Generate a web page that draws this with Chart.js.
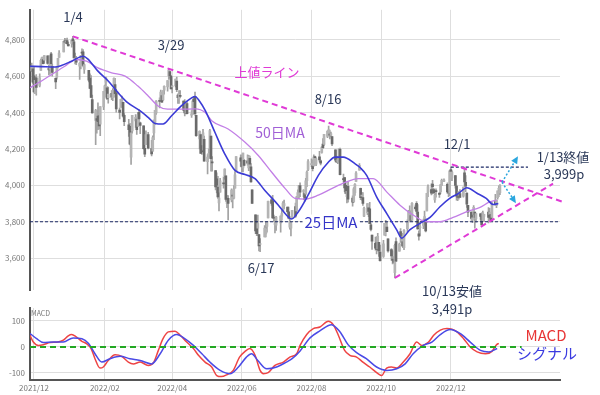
<!DOCTYPE html>
<html>
<head>
<meta charset="utf-8">
<script src="https://cdn.jsdelivr.net/npm/chart.js@4"></script>
<style>
    body { margin: 0; background: #fff; }
    #wrap { position: relative; width: 600px; height: 395px; }
    #wrap canvas { position: absolute; left: 0; top: 0; }
</style>
</head>
<body>
<div id="wrap">
    <canvas id="mainChart" width="600" height="395"></canvas>
    <canvas id="macdChart" width="600" height="395"></canvas>
</div>
<script>
// trading calendar
const firstDay = '2021-11-29';
const lastDay = '2023-01-13';
const holidays = ['2021-12-24', '2022-01-17', '2022-02-21', '2022-04-15', '2022-05-30', '2022-06-20',
    '2022-07-04', '2022-09-05', '2022-11-24', '2022-12-26', '2023-01-02'];

// daily candles, one line per month (Nov 2021 .. Jan 2023)
const opens = [
    4628, 4640,
    4602, 4504, 4590, 4548, 4631, 4690, 4691, 4688, 4711, 4643, 4637, 4722, 4653, 4587, 4594, 4650, 4703, 4733, 4795, 4788, 4795, 4775,
    4779, 4804, 4788, 4693, 4698, 4655, 4669, 4729, 4733, 4637, 4632, 4588, 4548, 4471, 4357, 4366, 4380, 4381, 4336, 4431,
    4519, 4566, 4535, 4482, 4505, 4481, 4547, 4553, 4506, 4413, 4429, 4455, 4456, 4385, 4332, 4324, 4155, 4299, 4354,
    4364, 4323, 4401, 4343, 4327, 4203, 4223, 4253, 4279, 4202, 4188, 4288, 4345, 4398, 4462, 4469, 4493, 4469, 4522, 4541, 4602, 4624, 4599,
    4540, 4547, 4572, 4495, 4474, 4494, 4462, 4437, 4397, 4449, 4385, 4390, 4473, 4489, 4385, 4255, 4279, 4186, 4222, 4253,
    4130, 4159, 4181, 4271, 4129, 4081, 4035, 3990, 3903, 3963, 4013, 4053, 4052, 3900, 3928, 3920, 3942, 3929, 3984, 4077, 4151,
    4149, 4096, 4137, 4135, 4096, 4148, 4102, 3975, 3838, 3765, 3764, 3729, 3675, 3716, 3733, 3774, 3821, 3920, 3913, 3826, 3785,
    3781, 3793, 3831, 3859, 3888, 3880, 3855, 3770, 3764, 3818, 3883, 3860, 3935, 3955, 3998, 3966, 3954, 3951, 4026, 4087,
    4113, 4105, 4107, 4154, 4116, 4156, 4134, 4181, 4227, 4225, 4269, 4291, 4281, 4274, 4267, 4195, 4133, 4127, 4153, 4198, 4035, 4042, 4000,
    3937, 3994, 3930, 3910, 3960, 4022, 4083, 3984, 3940, 3932, 3830, 3849, 3876, 3871, 3783, 3727, 3682, 3686, 3651, 3687, 3633,
    3609, 3726, 3754, 3771, 3706, 3647, 3595, 3591, 3520, 3691, 3638, 3746, 3695, 3689, 3657, 3762, 3799, 3825, 3834, 3808, 3881,
    3901, 3853, 3734, 3767, 3780, 3817, 3810, 3859, 3964, 3977, 4007, 3976, 3920, 3966, 3956, 3965, 4000, 4023, 4005, 3965, 3958,
    4087, 4040, 4053, 3996, 3934, 3947, 3954, 3940, 4069, 4016, 3958, 3890, 3853, 3810, 3840, 3853, 3815, 3843, 3829, 3806, 3829,
    3853, 3840, 3840, 3823, 3910, 3889, 3932, 3977, 3960
];
const highs = [
    4672, 4646,
    4652, 4596, 4608, 4612, 4694, 4705, 4705, 4713, 4711, 4660, 4712, 4731, 4666, 4591, 4651, 4698, 4740, 4791, 4807, 4804, 4808, 4787,
    4796, 4818, 4797, 4726, 4708, 4674, 4714, 4749, 4745, 4666, 4632, 4612, 4603, 4495, 4418, 4411, 4453, 4429, 4433, 4516,
    4550, 4595, 4542, 4540, 4521, 4531, 4590, 4588, 4527, 4426, 4472, 4490, 4456, 4394, 4363, 4341, 4295, 4385, 4389,
    4375, 4401, 4416, 4347, 4327, 4277, 4299, 4268, 4291, 4247, 4272, 4358, 4412, 4465, 4481, 4523, 4501, 4521, 4546, 4575, 4637, 4627, 4604,
    4548, 4583, 4594, 4503, 4521, 4520, 4464, 4471, 4453, 4460, 4411, 4471, 4489, 4512, 4386, 4299, 4279, 4240, 4308, 4270,
    4169, 4200, 4308, 4271, 4158, 4081, 4068, 4050, 3964, 4039, 4047, 4090, 4052, 3945, 3944, 3981, 3956, 3999, 4076, 4158, 4168,
    4166, 4177, 4143, 4168, 4164, 4160, 4119, 3975, 3838, 3778, 3837, 3729, 3708, 3779, 3801, 3802, 3913, 3927, 3945, 3836, 3818,
    3829, 3832, 3870, 3910, 3919, 3880, 3880, 3829, 3796, 3863, 3903, 3939, 3975, 4000, 4013, 3976, 3954, 4039, 4079, 4141,
    4145, 4140, 4168, 4161, 4151, 4187, 4138, 4211, 4257, 4280, 4301, 4325, 4303, 4293, 4267, 4195, 4159, 4156, 4200, 4204, 4062, 4044, 4016,
    3970, 4018, 3942, 3987, 4010, 4076, 4119, 3985, 3962, 3960, 3880, 3900, 3876, 3907, 3790, 3727, 3715, 3717, 3736, 3687, 3672,
    3698, 3791, 3807, 3797, 3706, 3653, 3640, 3608, 3677, 3712, 3683, 3762, 3719, 3736, 3757, 3810, 3862, 3887, 3860, 3905, 3893,
    3911, 3894, 3750, 3796, 3814, 3859, 3818, 3958, 4002, 4008, 4028, 3983, 3954, 3980, 3962, 4005, 4034, 4035, 4013, 3976, 4080,
    4100, 4080, 4053, 4001, 3951, 3966, 3977, 3990, 4100, 4053, 3959, 3890, 3854, 3839, 3889, 3853, 3845, 3846, 3849, 3858, 3840,
    3878, 3873, 3840, 3907, 3951, 3919, 3970, 3997, 4004
];
const lows = [
    4626, 4560,
    4510, 4504, 4495, 4540, 4631, 4671, 4667, 4671, 4666, 4606, 4611, 4651, 4600, 4531, 4583, 4645, 4703, 4733, 4780, 4778, 4775, 4765,
    4759, 4775, 4700, 4667, 4663, 4582, 4639, 4718, 4650, 4615, 4568, 4531, 4482, 4396, 4223, 4287, 4305, 4309, 4273, 4415,
    4484, 4544, 4471, 4451, 4471, 4465, 4547, 4484, 4402, 4364, 4429, 4429, 4374, 4327, 4268, 4222, 4115, 4287, 4318,
    4279, 4322, 4345, 4284, 4199, 4157, 4223, 4223, 4200, 4161, 4187, 4251, 4335, 4390, 4425, 4469, 4455, 4466, 4501, 4517, 4581, 4589, 4530,
    4507, 4540, 4514, 4450, 4450, 4482, 4409, 4381, 4392, 4392, 4373, 4390, 4455, 4385, 4268, 4200, 4175, 4170, 4188, 4132,
    4063, 4147, 4154, 4078, 4077, 3975, 3958, 3928, 3859, 3963, 3984, 4034, 3912, 3877, 3810, 3909, 3876, 3925, 3984, 4077, 4104,
    4074, 4074, 4107, 4110, 4080, 4108, 4017, 3900, 3735, 3724, 3723, 3640, 3636, 3716, 3717, 3743, 3821, 3889, 3820, 3799, 3738,
    3752, 3743, 3809, 3859, 3870, 3847, 3815, 3759, 3722, 3817, 3823, 3860, 3926, 3927, 3938, 3937, 3911, 3951, 3993, 4080,
    4103, 4079, 4107, 4135, 4108, 4128, 4112, 4177, 4201, 4219, 4262, 4277, 4255, 4266, 4218, 4129, 4124, 4119, 4148, 4057, 4017, 3965, 3954,
    3903, 3907, 3886, 3906, 3945, 4022, 4083, 3921, 3918, 3889, 3828, 3839, 3828, 3789, 3750, 3648, 3644, 3623, 3640, 3610, 3584,
    3604, 3726, 3722, 3745, 3633, 3588, 3568, 3571, 3491, 3580, 3638, 3686, 3667, 3657, 3647, 3742, 3799, 3825, 3803, 3808, 3863,
    3843, 3759, 3699, 3722, 3762, 3786, 3744, 3859, 3937, 3947, 3953, 3954, 3906, 3935, 3933, 3956, 3999, 4020, 3956, 3937, 3943,
    4050, 4026, 3984, 3919, 3916, 3924, 3933, 3935, 3994, 3965, 3879, 3828, 3807, 3795, 3840, 3764, 3798, 3813, 3783, 3806, 3800,
    3794, 3815, 3802, 3809, 3890, 3877, 3924, 3937, 3949
];
const closes = [
    4655, 4567,
    4513, 4577, 4538, 4591, 4686, 4701, 4668, 4712, 4669, 4634, 4709, 4668, 4620, 4568, 4649, 4697, 4726, 4791, 4786, 4793, 4778, 4766,
    4796, 4793, 4700, 4696, 4677, 4670, 4713, 4726, 4659, 4663, 4577, 4532, 4483, 4398, 4410, 4356, 4350, 4326, 4432, 4516,
    4546, 4589, 4477, 4501, 4484, 4522, 4587, 4504, 4419, 4401, 4472, 4475, 4380, 4349, 4305, 4226, 4288, 4385, 4374,
    4306, 4387, 4364, 4329, 4201, 4171, 4278, 4260, 4204, 4173, 4262, 4358, 4412, 4463, 4461, 4512, 4457, 4520, 4543, 4575, 4632, 4602, 4530,
    4546, 4583, 4525, 4481, 4500, 4488, 4413, 4397, 4447, 4393, 4392, 4463, 4459, 4394, 4272, 4297, 4175, 4184, 4288, 4132,
    4155, 4175, 4301, 4147, 4123, 3991, 4001, 3936, 3930, 4024, 4008, 4089, 3923, 3901, 3901, 3974, 3941, 3979, 4058, 4158, 4132,
    4101, 4177, 4109, 4121, 4161, 4116, 4018, 3901, 3750, 3735, 3790, 3667, 3675, 3765, 3760, 3796, 3912, 3900, 3821, 3819, 3785,
    3825, 3831, 3845, 3903, 3899, 3855, 3819, 3801, 3790, 3863, 3831, 3937, 3960, 3999, 3962, 3967, 3921, 4024, 4073, 4130,
    4119, 4091, 4155, 4152, 4145, 4140, 4122, 4210, 4207, 4280, 4297, 4305, 4275, 4284, 4228, 4138, 4128, 4141, 4199, 4058, 4031, 3986, 3955,
    3967, 3924, 3908, 3980, 4006, 4067, 4110, 3932, 3946, 3901, 3873, 3900, 3856, 3790, 3758, 3693, 3655, 3647, 3720, 3640, 3586,
    3679, 3791, 3783, 3745, 3640, 3612, 3589, 3577, 3670, 3583, 3677, 3720, 3695, 3666, 3752, 3797, 3859, 3831, 3807, 3901, 3872,
    3857, 3760, 3720, 3771, 3807, 3828, 3749, 3956, 3993, 3957, 3992, 3959, 3947, 3965, 3950, 4003, 4027, 4026, 3964, 3958, 4080,
    4076, 4072, 3999, 3941, 3933, 3964, 3934, 3990, 4019, 3995, 3896, 3852, 3818, 3821, 3879, 3823, 3845, 3829, 3783, 3849, 3840,
    3824, 3853, 3808, 3895, 3893, 3919, 3970, 3983, 3999
];

// moving averages (x = days after 2021-12-01)
const ma25Days = [-3.5, 6.7, 18.4, 24, 33, 43, 47, 56, 65, 73.6, 82, 93, 100, 106, 113, 120.5, 129, 138, 141, 145, 150, 158.5, 167, 176,
    184.8, 193.5, 202, 214, 221, 225.6, 231.5, 240, 249, 257.7, 263.6, 270.8, 281, 286, 291.3, 300, 308.8, 317.6, 322, 329, 338, 346.8,
    355.5, 364, 371.6, 379, 387.6, 396, 402, 406.6];
const ma25 = [4654, 4652, 4650, 4658, 4682, 4709, 4695, 4627, 4573, 4509, 4454, 4409, 4373, 4340, 4337, 4382, 4436, 4480, 4488, 4462, 4410,
    4290, 4173, 4082, 4059, 4037, 3973, 3891, 3837, 3815, 3855, 3946, 4055, 4127, 4155, 4155, 4119, 4095, 4055, 3937, 3846, 3755, 3710,
    3755, 3791, 3824, 3882, 3928, 3955, 3987, 3958, 3928, 3895, 3900];
const ma50Days = [-3.5, 3.8, 15.5, 27, 37, 46, 56, 68, 79.8, 91, 100, 108.6, 117, 129, 141, 150, 155.6, 170, 184.8, 196.4, 208, 220,
    228.6, 237, 249, 260.7, 272, 284, 297, 308.8, 320.5, 332, 343.7, 355.5, 367, 379, 390.6, 399, 405];
const ma50 = [4536, 4563, 4609, 4654, 4691, 4682, 4645, 4618, 4600, 4545, 4491, 4436, 4418, 4418, 4420, 4400, 4355, 4309, 4236, 4164, 4073,
    3982, 3928, 3924, 3946, 3982, 4015, 4037, 4037, 3964, 3891, 3837, 3800, 3800, 3824, 3855, 3879, 3909, 3919];

// MACD and signal
const macdDays = [-3.5, -0.6, 3.8, 8.2, 14, 21, 25.7, 30, 33, 37, 42, 46, 50, 53.4, 57.8, 60.7, 65, 71, 76.8, 82.6, 87, 93, 100, 105,
    108.9, 113, 117.6, 123.5, 128, 133.7, 139.6, 144, 149.8, 155.6, 160, 164, 168.7, 174.5, 180, 184.8, 189, 193.6, 198, 200.9, 205, 211,
    218.4, 224, 230, 233, 238.8, 244.6, 250.4, 257.7, 262, 266.5, 272, 276.6, 282.5, 288, 294, 301.5, 304.4, 308.8, 313, 317.6, 323.4,
    329.3, 335, 339.6, 345.5, 350, 355.8, 361.6, 366, 370.4, 376.2, 382, 388, 395.3, 401, 405, 407];
const macd = [45, 19, 6, 9, 17, 19, 26, 43, 48, 39, 22, 13, -6, -45, -81, -77, -52, -30, -36, -58, -65, -58, -71, -58, -13, 32, 58, 61,
    45, 19, -6, -32, -58, -77, -110, -114, -107, -90, -39, -17, -6, -32, -90, -103, -99, -71, -58, -39, -26, 6, 48, 71, 77, 99, 86, 45,
    -13, -32, -39, -58, -77, -103, -110, -81, -77, -81, -58, -26, 19, 6, 19, 45, 65, 71, 68, 58, 32, 0, -19, -26, -17, 9, 14];
const signalDays = [-3.5, 2.3, 8.2, 17, 25.7, 34.3, 42, 47.8, 53.4, 59.3, 66.6, 75.4, 84, 93, 103, 110.5, 117.6, 125, 132, 139.6, 147,
    154, 163, 171.6, 179, 186, 190.5, 196, 203.8, 212.5, 221, 226, 233, 241.7, 250, 260.6, 268, 275, 282.5, 291, 300, 308.8, 317.6, 325,
    332, 341, 348.4, 355.8, 364.6, 373, 382, 391, 398.4, 405.6];
const signal = [52, 32, 17, 19, 19, 35, 32, 13, -26, -58, -45, -36, -45, -52, -65, -26, 26, 48, 32, 6, -26, -58, -90, -103, -77, -39,
    -26, -52, -84, -77, -58, -45, -15, 35, 61, 86, 58, 9, -22, -45, -77, -90, -84, -65, -26, 6, 19, 48, 67, 52, 19, -13, -19, -6];

// drawn lines (days, values)
const upperLineDays = [34, 465], upperLineVals = [4818, 3905];
const lowerLineDays = [316, 454.5], lowerLineVals = [3491, 4009];
const supportDays = [-3.5, 460.6], supportVals = [3800, 3800];
const highDays = [365, 432.6], highVals = [4100, 4100];
const zeroDays = [-3.5, 427], zeroVals = [0, 0];

const tickDates = ['2021-12-01', '2022-02-01', '2022-04-01', '2022-06-01', '2022-08-01', '2022-10-01', '2022-12-01'];
const tickLabels = ['2021/12', '2022/02', '2022/04', '2022/06', '2022/08', '2022/10', '2022/12'];
const priceTicks = [3600, 3800, 4000, 4200, 4400, 4600, 4800];
const macdTicks = [-100, 0, 100];

const FONT = '"Noto Sans CJK JP", "DejaVu Sans", sans-serif';
Chart.defaults.font.family = FONT;

const DAY = 86400000;
const base = Date.UTC(2021, 11, 1);
function dayOf(s) {
    const p = s.split('-').map(Number);
    return (Date.UTC(p[0], p[1] - 1, p[2]) - base) / DAY;
}
const tickDays = tickDates.map(dayOf);

const candleDays = [];
for (let d = dayOf(firstDay); d <= dayOf(lastDay); d++) {
    const dt = new Date(base + d * DAY);
    const wd = dt.getUTCDay();
    if (wd === 0 || wd === 6 || holidays.includes(dt.toISOString().slice(0, 10))) continue;
    candleDays.push(d);
}

const pts = (xs, ys) => xs.map((x, i) => ({ x: x, y: ys[i] }));
const wicks = candleDays.map((d, i) => ({ x: d, y: [lows[i], highs[i]] }));
const bodies = candleDays.map((d, i) => ({ x: d, y: [opens[i], closes[i]] }));

const X_MIN = -3.5, X_MAX = 460.6;

// text + arrows on the price chart
const NAVY = '#2a3858';
const notes = [
    { t: '1/4', x: 73, y: 17, c: NAVY, s: 13 },
    { t: '3/29', x: 171, y: 45, c: NAVY, s: 13 },
    { t: '上値ライン', x: 267, y: 72, c: '#e03ad6', s: 13 },
    { t: '8/16', x: 328, y: 99, c: NAVY, s: 13 },
    { t: '50日MA', x: 280, y: 133, c: '#a15fd6', s: 14 },
    { t: '12/1', x: 457, y: 144, c: NAVY, s: 13 },
    { t: '1/13終値', x: 563, y: 157, c: NAVY, s: 13 },
    { t: '3,999p', x: 564, y: 174, c: NAVY, s: 13 },
    { t: '25日MA', x: 331, y: 222, c: '#3535c8', s: 15, bg: true },
    { t: '6/17', x: 261, y: 268, c: NAVY, s: 13 },
    { t: '10/13安値', x: 452, y: 291, c: NAVY, s: 13 },
    { t: '3,491p', x: 452, y: 309, c: NAVY, s: 13 },
    { t: 'MACD', x: 546, y: 335, c: '#e83535', s: 15 },
    { t: 'シグナル', x: 547, y: 353, c: '#3a3ae0', s: 15 }
];
const arrowStart = { d: 409.8, v: 4017 };
const arrowEnds = [{ d: 423.8, v: 4159 }, { d: 422, v: 3902 }];

const notesPlugin = {
    id: 'notes',
    afterDatasetsDraw(chart) {
        const ctx = chart.ctx;
        const xs = chart.scales.x, ys = chart.scales.y;
        ctx.save();
        // dotted arrows
        const sx = xs.getPixelForValue(arrowStart.d), sy = ys.getPixelForValue(arrowStart.v);
        arrowEnds.forEach(e => {
            const ex = xs.getPixelForValue(e.d), ey = ys.getPixelForValue(e.v);
            const ang = Math.atan2(ey - sy, ex - sx);
            ctx.strokeStyle = '#2aa6de';
            ctx.lineWidth = 1.5;
            ctx.setLineDash([2, 2]);
            ctx.beginPath();
            ctx.moveTo(sx, sy);
            ctx.lineTo(ex - 5 * Math.cos(ang), ey - 5 * Math.sin(ang));
            ctx.stroke();
            ctx.setLineDash([]);
            ctx.fillStyle = '#2aa6de';
            ctx.beginPath();
            ctx.moveTo(ex, ey);
            ctx.lineTo(ex - 8 * Math.cos(ang - 0.45), ey - 8 * Math.sin(ang - 0.45));
            ctx.lineTo(ex - 8 * Math.cos(ang + 0.45), ey - 8 * Math.sin(ang + 0.45));
            ctx.closePath();
            ctx.fill();
        });
        // labels
        ctx.textAlign = 'center';
        ctx.textBaseline = 'middle';
        notes.forEach(n => {
            ctx.font = n.s + 'px ' + FONT;
            if (n.bg) {
                const w = ctx.measureText(n.t).width;
                ctx.fillStyle = '#fff';
                ctx.fillRect(n.x - w / 2 - 2, n.y - n.s / 2, w + 4, n.s);
            }
            ctx.fillStyle = n.c;
            ctx.fillText(n.t, n.x, n.y);
        });
        ctx.restore();
    }
};

const refLine = (xs, ys, color, width, dash, order) => ({
    type: 'line', data: pts(xs, ys), borderColor: color, borderWidth: width, borderDash: dash,
    pointRadius: 0, clip: false, order: order
});

new Chart(document.getElementById('mainChart'), {
    type: 'bar',
    data: {
        datasets: [
            refLine(upperLineDays, upperLineVals, '#e03ad6', 2, [6, 4], 0),
            refLine(lowerLineDays, lowerLineVals, '#e03ad6', 2, [6, 4], 0),
            refLine(supportDays, supportVals, '#1c2a66', 1.2, [3, 2], 3),
            refLine(highDays, highVals, '#1c2a66', 1.2, [3, 2], 3),
            { type: 'line', data: pts(ma25Days, ma25), borderColor: '#3b3bd6', borderWidth: 1.6,
              pointRadius: 0, cubicInterpolationMode: 'monotone', order: 1 },
            { type: 'line', data: pts(ma50Days, ma50), borderColor: '#c27fe6', borderWidth: 1.3,
              pointRadius: 0, cubicInterpolationMode: 'monotone', order: 2 },
            { data: bodies, barThickness: 2, minBarLength: 1, grouped: false, order: 5,
              backgroundColor: c => closes[c.dataIndex] >= opens[c.dataIndex] ? '#b4b4b4' : '#6a6a6a' },
            { data: wicks, barThickness: 1, grouped: false, order: 6, backgroundColor: '#a2a2a2' }
        ]
    },
    options: {
        responsive: false,
        animation: false,
        devicePixelRatio: 1,
        layout: { padding: { top: 8, right: 40, bottom: 105, left: 0 } },
        plugins: { legend: { display: false }, tooltip: { enabled: false } },
        scales: {
            x: {
                type: 'linear', min: X_MIN, max: X_MAX, offset: false,
                afterBuildTicks: s => { s.ticks = tickDays.map(v => ({ value: v })); },
                afterFit: s => { s.height = 0; },
                ticks: { display: false },
                grid: { color: '#dedede', drawTicks: false, offset: false },
                border: { display: false }
            },
            y: {
                min: 3425, max: 4964,
                afterBuildTicks: s => { s.ticks = priceTicks.map(v => ({ value: v })); },
                afterFit: s => { s.width = 30; },
                ticks: { font: { size: 8 }, color: '#777', padding: 5, callback: v => v.toLocaleString('en-US') },
                grid: { color: '#dedede', drawTicks: false },
                border: { display: true, color: '#555', width: 2 }
            }
        }
    },
    plugins: [notesPlugin]
});

const macdLabel = {
    id: 'macdLabel',
    afterDraw(chart) {
        const ctx = chart.ctx;
        ctx.save();
        ctx.font = '7px ' + FONT;
        ctx.fillStyle = '#777';
        ctx.textBaseline = 'middle';
        ctx.fillText('MACD', chart.chartArea.left + 1, chart.chartArea.top + 5);
        ctx.restore();
    }
};

new Chart(document.getElementById('macdChart'), {
    type: 'line',
    data: {
        datasets: [
            refLine(zeroDays, zeroVals, '#22a822', 2, [6, 4], 0),
            { data: pts(macdDays, macd), borderColor: '#ee4444', borderWidth: 1.5, pointRadius: 0,
              cubicInterpolationMode: 'monotone', order: 2 },
            { data: pts(signalDays, signal), borderColor: '#4a4ae6', borderWidth: 1.5, pointRadius: 0,
              cubicInterpolationMode: 'monotone', order: 1 }
        ]
    },
    options: {
        responsive: false,
        animation: false,
        devicePixelRatio: 1,
        layout: { padding: { top: 308, right: 40, bottom: 0, left: 0 } },
        plugins: { legend: { display: false }, tooltip: { enabled: false } },
        scales: {
            x: {
                type: 'linear', min: X_MIN, max: X_MAX,
                afterBuildTicks: s => { s.ticks = tickDays.map(v => ({ value: v })); },
                afterFit: s => { s.height = 15; },
                ticks: { font: { size: 8 }, color: '#777', padding: 3, maxRotation: 0,
                         callback: v => tickLabels[tickDays.indexOf(v)] },
                grid: { color: '#dedede', drawTicks: false },
                border: { display: true, color: '#555', width: 2 }
            },
            y: {
                min: -127, max: 150,
                afterBuildTicks: s => { s.ticks = macdTicks.map(v => ({ value: v })); },
                afterFit: s => { s.width = 30; },
                ticks: { font: { size: 8 }, color: '#777', padding: 5 },
                grid: { color: '#dedede', drawTicks: false },
                border: { display: true, color: '#555', width: 2 }
            }
        }
    },
    plugins: [macdLabel]
});
</script>
</body>
</html>
